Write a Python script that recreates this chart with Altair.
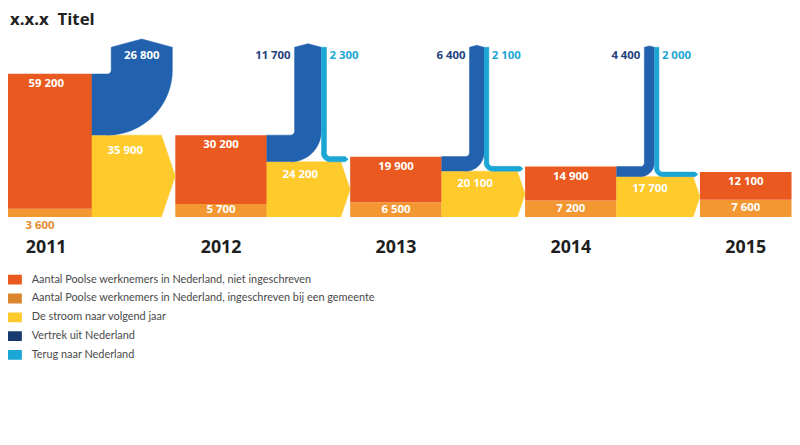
import altair as alt
import numpy as np
import pandas as pd

# ---------------- data ----------------
years = ["2011", "2012", "2013", "2014", "2015"]
niet_ingeschreven = [59200, 30200, 19900, 14900, 12100]
ingeschreven = [3600, 5700, 6500, 7200, 7600]
stroom = [35900, 24200, 20100, 17700]      # flow to next year
vertrek = [26800, 11700, 6400, 4400]       # leaving NL
terug = [0, 2300, 2100, 2000]              # coming back to NL

categories = [
    "Aantal Poolse werknemers in Nederland, niet ingeschreven",
    "Aantal Poolse werknemers in Nederland, ingeschreven bij een gemeente",
    "De stroom naar volgend jaar",
    "Vertrek uit Nederland",
    "Terug naar Nederland",
]
keys = ["niet", "ingeschreven", "stroom", "vertrek", "terug"]
chart_colors = ["#EA5A20", "#F39733", "#FECA2C", "#2161AD", "#1BA6D5"]
legend_colors = ["#EA5A20", "#D9862E", "#FECA2C", "#173B6F", "#1BA6D5"]
title_text = "x.x.x\u00a0 Titel"

# ---------------- layout ----------------
W, H = 792, 420
SLOT = 176.67      # px between block starts
X0 = -7.67         # px of first block's left edge
BW = 92.5          # block width px
VPP = 434.0        # workers per px
BASE = 209.0       # px of zero line
TOP = 171.5        # px above zero line: top of vertical flows
GAP = 28.0
R_IN = 4.0


def U(px):
    return (px - X0) / SLOT


def V(h):
    return h * VPP


def fmt(n):
    return f"{n:,}".replace(",", " ")


xscale = alt.Scale(domain=[U(0), U(W)], nice=False, zero=False)
yscale = alt.Scale(domain=[V(BASE - H), V(BASE)], nice=False, zero=False)
fill_scale = alt.Scale(domain=keys, range=chart_colors)


def XE(f):
    return alt.X(f, type="quantitative", scale=xscale, axis=None)


def YE(f):
    return alt.Y(f, type="quantitative", scale=yscale, axis=None)


# ---------------- blocks ----------------
brows = []
for i in range(len(years)):
    x1 = U(X0 + i * SLOT)
    x2 = U(X0 + i * SLOT + BW)
    brows.append(dict(x=x1, x2=x2, y=0, y2=ingeschreven[i], cat=keys[1]))
    brows.append(dict(x=x1, x2=x2, y=ingeschreven[i],
                      y2=ingeschreven[i] + niet_ingeschreven[i], cat=keys[0]))
blocks_df = pd.DataFrame(brows)


# ---------------- flow polygons ----------------
def arc(cx, cy, r, t0, t1, n=20):
    t = np.linspace(t0, t1, n)
    return list(zip(cx + r * np.cos(t), cy + r * np.sin(t)))


prow = []
geo = []


def add_poly(name, cat, pts):
    for k, (px, h) in enumerate(pts):
        prow.append(dict(shape=name, idx=k, x=U(px), y=V(h), cat=cat))


for j in range(len(stroom)):
    R = X0 + j * SLOT + BW
    Ln = X0 + (j + 1) * SLOT
    s = stroom[j] / VPP
    d = 0.34 * s / 2
    add_poly(f"y{j}", keys[2],
             [(R, 0), (R, s), (Ln - d, s), (Ln, s / 2), (Ln - d, 0)])

    b = vertrek[j] / VPP
    VL = min(R + GAP, Ln - b - 3)
    cx, cy = VL - R_IN, s + b + R_IN
    pts = [(R, s), (R, s + b)]
    pts += arc(cx, cy, R_IN, -np.pi / 2, 0)
    pts += [(VL, TOP), (VL + b / 2, TOP + 0.135 * b), (VL + b, TOP)]
    pts += arc(cx, cy, R_IN + b, 0, -np.pi / 2, 40)
    add_poly(f"b{j}", keys[3], pts)

    t = terug[j] / VPP
    a = VL + b
    if t > 0:
        cx2, cy2 = a + t + R_IN, s + t + R_IN
        Lend = Ln - 2
        pts = [(a, TOP), (a + t, TOP)]
        pts += arc(cx2, cy2, R_IN, np.pi, 1.5 * np.pi)
        pts += [(Lend - 3, s + t), (Lend, s + t / 2), (Lend - 3, s)]
        pts += arc(cx2, cy2, R_IN + t, 1.5 * np.pi, np.pi)
        add_poly(f"t{j}", keys[4], pts)
    geo.append(dict(R=R, Ln=Ln, s=s, b=b, VL=VL, a=a, t=t))

poly_df = pd.DataFrame(prow)

# ---------------- labels ----------------
white, outside, darkblue, lightblue, yearlab = [], [], [], [], []
for i in range(len(years)):
    xc = U(X0 + i * SLOT + BW / 2)
    tot = ingeschreven[i] + niet_ingeschreven[i]
    white.append(dict(x=xc, y=tot - 10.5 * VPP, t=fmt(niet_ingeschreven[i])))
    if ingeschreven[i] / VPP >= 10:
        white.append(dict(x=xc, y=ingeschreven[i] / 2, t=fmt(ingeschreven[i])))
    else:
        outside.append(dict(x=xc - 0.035, y=V(-9.5), t=fmt(ingeschreven[i])))
    yearlab.append(dict(x=xc, y=V(-31), t=years[i]))

for j, g in enumerate(geo):
    white.append(dict(x=U(g["R"] + 0.4 * (g["Ln"] - g["R"])),
                      y=V(g["s"] - 8 - 0.1 * g["s"]), t=fmt(stroom[j])))
    if g["b"] >= 40:
        white.append(dict(x=U(g["VL"] + g["b"] / 2), y=V(TOP - 8.5), t=fmt(vertrek[j])))
    else:
        darkblue.append(dict(x=U(g["VL"] - 4), y=V(TOP - 8.5), t=fmt(vertrek[j])))
    if terug[j] > 0:
        lightblue.append(dict(x=U(g["a"] + g["t"] + 3), y=V(TOP - 8.5), t=fmt(terug[j])))

FONT = "Open Sans"


def text_layer(rows, color, align="center", size=11.5, weight="bold", font=FONT):
    return alt.Chart(pd.DataFrame(rows)).mark_text(
        align=align, baseline="middle", font=font, fontSize=size,
        fontWeight=weight, color=color
    ).encode(x=XE("x"), y=YE("y"), text="t:N")


blocks = alt.Chart(blocks_df).mark_rect().encode(
    x=XE("x"), x2="x2", y=YE("y"), y2="y2",
    fill=alt.Fill("cat:N", scale=fill_scale, legend=None),
)

polys = alt.Chart(poly_df).mark_line(strokeWidth=0.5).encode(
    x=XE("x"), y=YE("y"),
    order=alt.Order("idx:Q"),
    detail="shape:N",
    fill=alt.Fill("cat:N", scale=fill_scale, legend=None),
    stroke=alt.Stroke("cat:N", scale=fill_scale, legend=None),
)

legend_df = pd.DataFrame(dict(cat=categories, x=[U(0)] * 5, y=[V(BASE)] * 5))
legend_layer = alt.Chart(legend_df).mark_rect().encode(
    x=XE("x"), x2="x", y=YE("y"), y2="y",
    color=alt.Color(
        "cat:N",
        scale=alt.Scale(domain=categories, range=legend_colors),
        legend=alt.Legend(
            title=None, orient="none", legendX=-8, legendY=262.8,
            direction="vertical",
            symbolType="M-1,-0.45L1,-0.45L1,0.45L-1,0.45Z",
            symbolSize=484, symbolStrokeWidth=0, clipHeight=19,
            rowPadding=0, labelOffset=10, padding=0,
            labelFont="Lato", labelFontSize=11, labelColor="#4a4a4a",
            labelLimit=700,
        ),
    ),
)

title = alt.Chart(pd.DataFrame({"t": [title_text]})).mark_text(
    align="left", baseline="top", font=FONT, fontSize=17,
    fontWeight="bold", color="#222222"
).encode(x=alt.value(2), y=alt.value(2), text="t:N")

chart = alt.layer(
    blocks,
    polys,
    legend_layer,
    text_layer(white, "white"),
    text_layer(outside, "#E58A2E"),
    text_layer(darkblue, "#23417D", align="right"),
    text_layer(lightblue, "#1BA6D5", align="left"),
    text_layer(yearlab, "#1e1e1e", size=18),
    title,
).properties(
    width=W, height=H, padding=0, autosize="none"
).configure_view(stroke=None)

chart.save("out.html", embed_options={"renderer": "svg", "actions": False})
